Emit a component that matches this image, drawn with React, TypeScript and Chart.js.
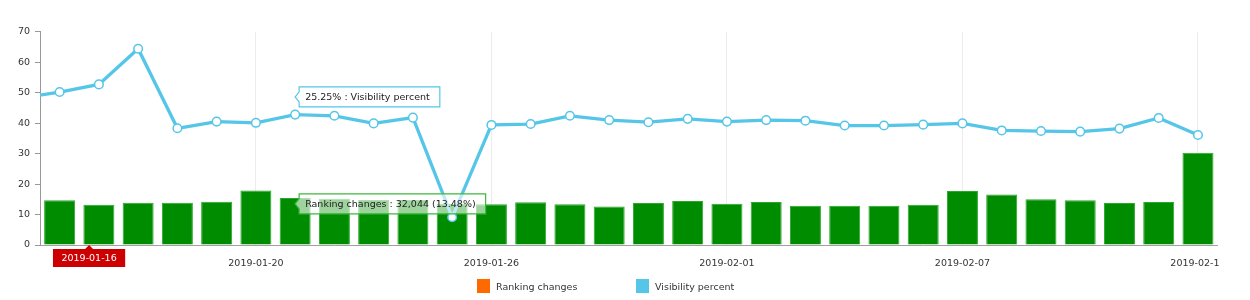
import React, { useEffect, useRef } from "react";
import { Chart, registerables } from "chart.js";

Chart.register(...registerables);

// ---------- data ----------
const dates = [
  "2019-01-14", "2019-01-15", "2019-01-16", "2019-01-17", "2019-01-18", "2019-01-19",
  "2019-01-20", "2019-01-21", "2019-01-22", "2019-01-23", "2019-01-24", "2019-01-25",
  "2019-01-26", "2019-01-27", "2019-01-28", "2019-01-29", "2019-01-30", "2019-01-31",
  "2019-02-01", "2019-02-02", "2019-02-03", "2019-02-04", "2019-02-05", "2019-02-06",
  "2019-02-07", "2019-02-08", "2019-02-09", "2019-02-10", "2019-02-11", "2019-02-12",
  "2019-02-13",
];

const visibilityPercent = [
  48.2, 50.2, 52.7, 64.4, 38.3, 40.5, 40.1, 42.8, 42.4, 39.9, 41.8, 9.1,
  39.4, 39.7, 42.4, 41.0, 40.3, 41.4, 40.5, 41.0, 40.8, 39.2, 39.2, 39.5,
  39.9, 37.6, 37.4, 37.2, 38.2, 41.7, 36.1,
];

const rankingChanges = [
  null, 14.7, 13.2, 13.9, 13.9, 14.2, 17.9, 15.4, 15.2, 14.8, 14.8, 13.5,
  13.4, 14.0, 13.4, 12.6, 13.8, 14.4, 13.5, 14.1, 12.9, 12.9, 12.9, 13.2,
  17.7, 16.6, 15.0, 14.7, 13.8, 14.1, 30.3,
];

const xTickDates = ["2019-01-20", "2019-01-26", "2019-02-01", "2019-02-07", "2019-02-13"];
const yTickValues = [0, 10, 20, 30, 40, 50, 60, 70];

const seriesNames = ["Ranking changes", "Visibility percent"];
const legendColors = ["#ff6a00", "#55c6e8"];

// hover balloons shown in the picture
const cursorDate = "2019-01-21";
const visibilityBalloonText = "25.25% : Visibility percent";
const visibilityBalloonValue = 48.6;
const rankingBalloonText = "Ranking changes : 32,044 (13.48%)";
const rankingBalloonValue = 13.5;
const categoryBalloonText = "2019-01-16";
const categoryBalloonPos = 1.75;

// ---------- style ----------
const FONT_FAMILY = "'DejaVu Sans', Verdana, sans-serif";
const FONT_SIZE = 9.5;
const LINE_COLOR = "#55c6e8";
const BAR_COLOR = "#008c00";

function sideBalloon(ctx: CanvasRenderingContext2D, tx: number, ty: number, text: string, stroke: string, fill: string) {
  const tw = ctx.measureText(text).width;
  const left = tx + 4;
  const w = tw + 16;
  const h = 20;
  const top = ty - h / 2;
  ctx.beginPath();
  ctx.moveTo(left, top);
  ctx.lineTo(left + w, top);
  ctx.lineTo(left + w, top + h);
  ctx.lineTo(left, top + h);
  ctx.lineTo(left, ty + 5);
  ctx.lineTo(tx, ty);
  ctx.lineTo(left, ty - 5);
  ctx.closePath();
  ctx.fillStyle = fill;
  ctx.fill();
  ctx.lineWidth = 1.2;
  ctx.strokeStyle = stroke;
  ctx.stroke();
  ctx.fillStyle = "#222";
  ctx.textAlign = "left";
  ctx.textBaseline = "middle";
  ctx.fillText(text, left + 6, ty + 0.5);
}

const balloonPlugin = {
  id: "balloons",
  afterDatasetsDraw(chart: any) {
    const { ctx, scales } = chart;
    const x = scales.x;
    const y = scales.y;
    ctx.save();
    ctx.font = `${FONT_SIZE}px ${FONT_FAMILY}`;
    const cx = x.getPixelForValue(dates.indexOf(cursorDate));
    sideBalloon(ctx, cx, y.getPixelForValue(visibilityBalloonValue), visibilityBalloonText, LINE_COLOR, "#ffffff");
    sideBalloon(ctx, cx, y.getPixelForValue(rankingBalloonValue), rankingBalloonText, "#3cb83c", "rgba(255,255,255,0.62)");

    // category balloon under the axis
    const ax = x.getPixelForValue(categoryBalloonPos);
    const ay = y.getPixelForValue(0);
    const tw = ctx.measureText(categoryBalloonText).width;
    const w = tw + 17;
    const h = 18;
    const top = ay + 4;
    const left = ax - w / 2;
    ctx.beginPath();
    ctx.moveTo(left, top);
    ctx.lineTo(ax - 4, top);
    ctx.lineTo(ax, ay);
    ctx.lineTo(ax + 4, top);
    ctx.lineTo(left + w, top);
    ctx.lineTo(left + w, top + h);
    ctx.lineTo(left, top + h);
    ctx.closePath();
    ctx.fillStyle = "#cc0000";
    ctx.fill();
    ctx.fillStyle = "#ffffff";
    ctx.textAlign = "center";
    ctx.textBaseline = "middle";
    ctx.fillText(categoryBalloonText, ax, top + h / 2 + 0.5);
    ctx.restore();
  },
};

export default function App() {
  const canvasRef = useRef<HTMLCanvasElement | null>(null);

  useEffect(() => {
    if (!canvasRef.current) return;
    Chart.defaults.font.family = FONT_FAMILY;
    Chart.defaults.font.size = FONT_SIZE;
    const xs = dates.map((_, i) => i);
    const chart = new Chart(canvasRef.current, {
      type: "bar",
      data: {
        datasets: [
          {
            type: "line",
            label: seriesNames[1],
            data: xs.map((i) => ({ x: i, y: visibilityPercent[i] })),
            borderColor: LINE_COLOR,
            borderWidth: 3.3,
            pointRadius: 4.3,
            pointBorderWidth: 1.5,
            pointBackgroundColor: "#ffffff",
            pointBorderColor: LINE_COLOR,
            tension: 0,
            order: 0,
            clip: { left: 0, right: false, top: false, bottom: false } as any,
          },
          {
            type: "bar",
            label: seriesNames[0],
            data: xs.map((i) => ({ x: i, y: rankingChanges[i] })) as any,
            backgroundColor: BAR_COLOR,
            borderColor: "#2aa82a",
            borderWidth: 1,
            barPercentage: 0.79,
            categoryPercentage: 1,
            order: 1,
          },
        ] as any,
      },
      options: {
        animation: false,
        responsive: false,
        devicePixelRatio: 1,
        layout: { padding: { top: 31.7, right: 32.4, bottom: 30, left: 0 } },
        plugins: { legend: { display: false }, tooltip: { enabled: false } },
        scales: {
          x: {
            type: "linear",
            offset: false,
            bounds: "data",
            min: 0.5,
            max: 30.5,
            afterDataLimits: (scale: any) => {
              scale.min = 0.5;
              scale.max = 30.5;
            },
            afterBuildTicks: (scale: any) => {
              scale.ticks = xTickDates.map((d) => ({ value: dates.indexOf(d) }));
            },
            afterFit: (scale: any) => {
              scale.height = 25;
            },
            ticks: {
              autoSkip: false,
              maxRotation: 0,
              padding: 12.5,
              color: "#333",
              font: { size: FONT_SIZE, family: FONT_FAMILY },
              callback: (v: any) => dates[v],
            },
            grid: { color: "#ececec", drawTicks: false, lineWidth: 1, offset: false },
            border: { display: true, color: "#a0a0a0", width: 1 },
          },
          y: {
            type: "linear",
            min: 0,
            max: 70,
            afterBuildTicks: (scale: any) => {
              scale.ticks = yTickValues.map((v) => ({ value: v }));
            },
            afterFit: (scale: any) => {
              scale.width = 40;
            },
            ticks: {
              padding: 5,
              color: "#333",
              font: { size: FONT_SIZE, family: FONT_FAMILY },
            },
            grid: { display: true, drawOnChartArea: false, drawTicks: true, tickLength: 5, color: "#999" },
            border: { display: true, color: "#999", width: 1 },
          },
        },
      } as any,
      plugins: [balloonPlugin],
    });
    return () => chart.destroy();
  }, []);

  return (
    <div style={{ position: "absolute", left: 0, top: 0, width: 1220, height: 300, overflow: "hidden", background: "#fff" }}>
      <canvas ref={canvasRef} width={1250} height={300} style={{ position: "absolute", left: 0, top: 0, width: 1250, height: 300 }} />
      <div
        style={{
          position: "absolute",
          left: 477,
          top: 279,
          display: "flex",
          alignItems: "center",
          fontFamily: FONT_FAMILY,
          fontSize: FONT_SIZE,
          color: "#333",
        }}
      >
        {seriesNames.map((name, i) => (
          <div key={name} style={{ display: "flex", alignItems: "center", width: i === 0 ? 159 : "auto" }}>
            <span style={{ display: "inline-block", width: 13, height: 14, background: legendColors[i], marginRight: 6 }} />
            <span>{name}</span>
          </div>
        ))}
      </div>
    </div>
  );
}
